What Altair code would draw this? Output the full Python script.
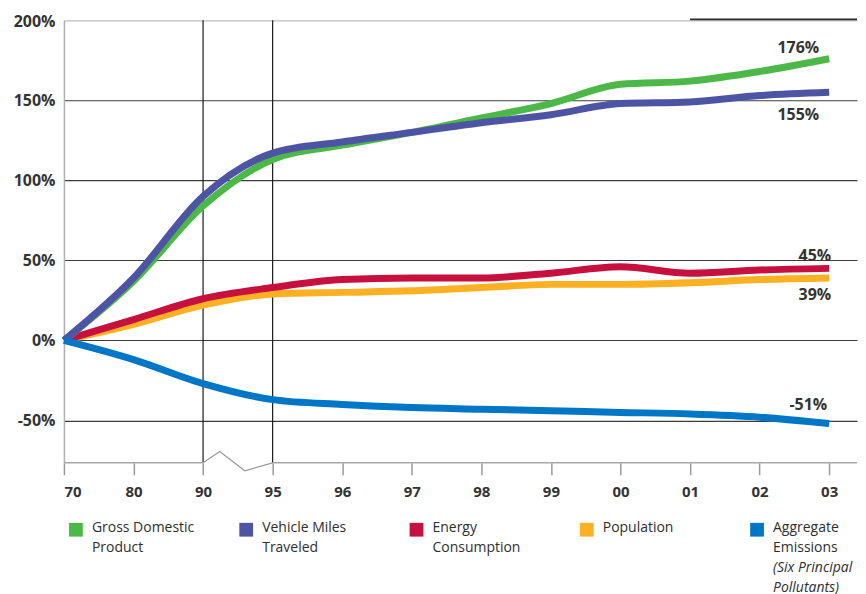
import altair as alt
import pandas as pd

# ---------------- data ----------------
years = ["70", "80", "90", "95", "96", "97", "98", "99", "00", "01", "02", "03"]
gdp = [0, 37, 84, 113, 122, 130, 139, 148, 160, 162, 168, 176]
vmt = [0, 39, 90, 117, 124, 130, 136, 141, 148, 149, 153, 155]
energy = [0, 13, 26, 33, 38, 39, 39, 42, 46, 42, 44, 45]
population = [0, 10, 22, 29, 30, 31, 33, 35, 35, 36, 38, 39]
emissions = [0, -12, -27, -37, -40, -42, -43, -44, -45, -46, -48, -52]

series_names = ["Gross Domestic Product", "Vehicle Miles Traveled",
                "Energy Consumption", "Population", "Aggregate Emissions"]
series_values = [gdp, vmt, energy, population, emissions]
colors = ["#4cb847", "#4e54a4", "#c8103e", "#fdb022", "#0076c6"]
draw_order = [3, 2, 0, 1, 4]  # population, energy, gdp, vmt, emissions

legend_labels = ["Gross Domestic\nProduct", "Vehicle Miles\nTraveled",
                 "Energy\nConsumption", "Population", "Aggregate\nEmissions"]
legend_notes = ["", "", "", "", "(Six Principal\nPollutants)"]

end_labels = ["176%", "155%", "45%", "39%", "-51%"]

y_ticks = [-50, 0, 50, 100, 150, 200]
y_min, y_max = -76.5, 200
x_max = 11.4
break_from, break_to = 2, 3            # axis break between "90" and "95"
break_x = [2, 2.24, 2.6, 3]
break_y = [-76.5, -69.5, -81.5, -76.5]
top_accent_from = 9                    # dark top rule starts at "01"

# label placement styles (pixel offsets from the end of each line)
label_style = {0: (-10, -11), 1: (-10, 23), 2: (2, -12), 3: (2, 17), 4: (-2, -19)}

FONT = "Open Sans"
TXT = "#333333"
PLOT_H = 443

# ---------------- tables ----------------
rows = []
for si in draw_order:
    for i, v in enumerate(series_values[si]):
        rows.append({"x": i, "value": v, "series": series_names[si], "order": draw_order.index(si)})
lines_df = pd.DataFrame(rows)

ends_df = pd.DataFrame({
    "idx": range(5),
    "series": series_names,
    "x": [len(years) - 1] * 5,
    "value": [s[-1] for s in series_values],
    "label": end_labels,
})

color_scale = alt.Scale(domain=series_names, range=colors)
x_scale = alt.Scale(domain=[0, x_max], nice=False, zero=False)
y_scale = alt.Scale(domain=[y_min, y_max], nice=False, zero=False)

label_expr = "[" + ",".join("'%s'" % y for y in years) + "][datum.value]"

x_axis = alt.Axis(values=list(range(len(years))), labelExpr=label_expr, grid=False,
                  domain=False, tickColor="#9a9a9a", tickWidth=1.5, tickSize=12,
                  labelFont=FONT, labelFontSize=15, labelFontWeight="bold",
                  labelColor=TXT, labelPadding=10, title=None)
y_axis = alt.Axis(values=y_ticks, labelExpr="datum.value + '%'", grid=True,
                  gridColor={"condition": {"test": "datum.value == 200", "value": "#bdbdbd"},
                             "value": "#3c3c3c"},
                  gridWidth=1.1, domain=True, domainColor="#b0b0b0", domainWidth=1.5,
                  ticks=False, labelFont=FONT, labelFontSize=16, labelFontWeight="bold",
                  labelColor=TXT, labelPadding=9, minExtent=56, maxExtent=56, title=None,
                  labelFlush=True, labelFlushOffset=7)

base = alt.Chart(lines_df)

lines = base.mark_line(strokeWidth=7, interpolate="monotone").encode(
    x=alt.X("x:Q", scale=x_scale, axis=x_axis),
    y=alt.Y("value:Q", scale=y_scale, axis=y_axis),
    color=alt.Color("series:N", scale=color_scale, legend=None),
    order=alt.Order("order:Q"),
    detail="series:N",
)

# vertical markers at 90 and 95
vrules = alt.Chart(pd.DataFrame({"x": [break_from, break_to]})).mark_rule(
    color="#1a1a1a", strokeWidth=1.2).encode(
    x="x:Q", y=alt.value(0), y2=alt.value(PLOT_H))

# bottom axis line split at the break
dom_df = pd.DataFrame({"x": [0, break_to], "x2": [break_from, x_max], "y": [y_min, y_min]})
domain_line = alt.Chart(dom_df).mark_rule(color="#a8a8a8", strokeWidth=1.5).encode(
    x="x:Q", x2="x2:Q", y="y:Q")

zig = alt.Chart(pd.DataFrame({"x": break_x, "y": break_y, "k": range(4)})).mark_line(
    color="#9a9a9a", strokeWidth=1.2).encode(x="x:Q", y="y:Q", order="k:Q")

# dark accent on top border
top_df = pd.DataFrame({"x": [top_accent_from], "x2": [x_max], "y": [y_max]})
top_rule = alt.Chart(top_df).mark_rule(color="#2a2a2a", strokeWidth=1.6, yOffset=-1).encode(
    x="x:Q", x2="x2:Q", y="y:Q")

ends = alt.Chart(ends_df)
end_layers = []
for idx, (dx, dy) in label_style.items():
    end_layers.append(
        ends.transform_filter(f"datum.idx == {idx}").mark_text(
            align="right", baseline="middle", dx=dx, dy=dy, font=FONT, fontSize=16,
            fontWeight="bold", color=TXT).encode(x="x:Q", y="value:Q", text="label:N"))

main = alt.layer(vrules, lines, domain_line, zig, top_rule, *end_layers).properties(
    width=794, height=PLOT_H)

# ---------------- legend panel ----------------
leg_df = pd.DataFrame({"i": range(5), "series": series_names,
                       "label": legend_labels, "note": legend_notes})
leg_scale = alt.Scale(domain=[-0.0704, 4.587], nice=False, zero=False)
leg = alt.Chart(leg_df)
leg_sq = leg.mark_square(size=190, opacity=1).encode(
    x=alt.X("i:Q", scale=leg_scale, axis=None), y=alt.value(21),
    color=alt.Color("series:N", scale=color_scale, legend=None))
leg_txt = leg.mark_text(align="left", baseline="top", dx=16, font=FONT, fontSize=14,
                        lineBreak="\n", lineHeight=20, color="#2e2e2e").encode(
    x=alt.X("i:Q", scale=leg_scale, axis=None), y=alt.value(12), text="label:N")
leg_note = leg.mark_text(align="left", baseline="top", dx=16, font=FONT, fontSize=14,
                         fontStyle="italic", lineBreak="\n", lineHeight=20, color="#2e2e2e").encode(
    x=alt.X("i:Q", scale=leg_scale, axis=None), y=alt.value(52), text="note:N")
legend_panel = alt.layer(leg_sq, leg_txt, leg_note).properties(width=794, height=70)

chart = alt.vconcat(main, legend_panel, spacing=9).properties(
    padding={"left": 0, "top": 5, "right": 0, "bottom": 0}
).configure_view(stroke=None)

chart.save("out.html", embed_options={"renderer": "svg", "actions": False})
